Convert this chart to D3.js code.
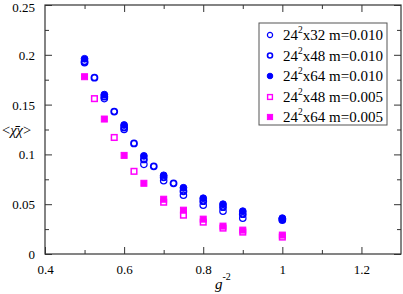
<!DOCTYPE html>
<html><head><meta charset="utf-8">
<script src="https://cdn.jsdelivr.net/npm/d3@7"></script>
<style>body{margin:0;background:#fff}svg{display:block}svg text{font-family:"Liberation Serif","DejaVu Serif",serif !important;fill:#000}</style>
</head><body><svg id="c" width="403" height="294"></svg>
<script>
// ---- data ----
const seriesNames = ["24²x32 m=0.010","24²x48 m=0.010","24²x64 m=0.010","24²x48 m=0.005","24²x64 m=0.005"];
const x32m010 = [0.5,0.55,0.6,0.65,0.7,0.75,0.8,0.85,0.9,1.0];
const y32m010 = [0.192,0.156,0.125,0.090,0.0736,0.059,0.049,0.043,0.036,0.034];
const x48m010 = [0.5,0.525,0.55,0.575,0.6,0.625,0.65,0.675,0.7,0.725,0.75,0.8,0.85,0.9,1.0];
const y48m010 = [0.193,0.177,0.158,0.143,0.127,0.111,0.095,0.088,0.077,0.071,0.063,0.053,0.047,0.040,0.035];
const x64m010 = [0.5,0.55,0.6,0.65,0.7,0.75,0.8,0.85,0.9,1.0];
const y64m010 = [0.196,0.160,0.1295,0.0985,0.079,0.0665,0.056,0.050,0.043,0.036];
const x48m005 = [0.525,0.575,0.625,0.7,0.75,0.8,0.85,0.9,1.0];
const y48m005 = [0.156,0.117,0.083,0.052,0.039,0.032,0.026,0.022,0.017];
const x64m005 = [0.5,0.55,0.6,0.65,0.7,0.75,0.8,0.85,0.9,1.0];
const y64m005 = [0.178,0.1355,0.099,0.071,0.055,0.044,0.035,0.028,0.024,0.019];
const xTicks = [0.4,0.6,0.8,1,1.2];
const xTickLabels = ["0.4","0.6","0.8","1","1.2"];
const yTicks = [0,0.05,0.1,0.15,0.2,0.25];
const yTickLabels = ["0","0.05","0.1","0.15","0.2","0.25"];

const svg = d3.select("#c");
const L=45,R=401,T=5,B=254;
const x = d3.scaleLinear().domain([0.4,1.3]).range([L,R]);
const y = d3.scaleLinear().domain([0,0.25]).range([B,T]);
const blue="#0000ff", mag="#ff00ff";
const SERIF = '"Liberation Serif","DejaVu Serif",serif';

const series = [
  {xs:x32m010, ys:y32m010, shape:"circle", fill:"none", color:blue, sw:1.2, r:3.2},
  {xs:x48m010, ys:y48m010, shape:"circle", fill:"none", color:blue, sw:1.8, r:3.0},
  {xs:x64m010, ys:y64m010, shape:"circle", fill:blue, color:blue, sw:1, r:3.4},
  {xs:x48m005, ys:y48m005, shape:"square", fill:"none", color:mag, sw:1.5, r:2.8},
  {xs:x64m005, ys:y64m005, shape:"square", fill:mag, color:mag, sw:1, r:3.0}
];

const minorX = d3.range(0.5,1.3,0.2);
const minorY = d3.range(0.025,0.25,0.05);
function drawAxis(axisGen, tx, ty){ const g=svg.append("g").attr("transform",`translate(${tx},${ty})`).call(axisGen); g.attr("font-family",SERIF); g.select(".domain").remove(); g.selectAll("line").attr("stroke","#333"); return g;}
const fmtX = (d)=>xTickLabels[xTicks.indexOf(d)];
const fmtY = (d)=>yTickLabels[yTicks.indexOf(d)];
let g;
g=drawAxis(d3.axisBottom(x).tickValues(xTicks).tickSize(-7).tickPadding(11).tickFormat(fmtX),0,B);
g.selectAll("text").attr("font-size",13).style("font-family",SERIF);
drawAxis(d3.axisBottom(x).tickValues(minorX).tickSize(-4).tickFormat(""),0,B);
drawAxis(d3.axisTop(x).tickValues(xTicks.filter(d=>d>0.4)).tickSize(-7).tickFormat(""),0,T);
drawAxis(d3.axisTop(x).tickValues(minorX).tickSize(-4).tickFormat(""),0,T);
g=drawAxis(d3.axisLeft(y).tickValues(yTicks).tickSize(-7).tickPadding(10).tickFormat(fmtY),L,0);
g.selectAll("text").attr("font-size",13).style("font-family",SERIF).attr("dy",d=>d===0.25?"0.5em":"0.35em");
drawAxis(d3.axisLeft(y).tickValues(minorY).tickSize(-4).tickFormat(""),L,0);
drawAxis(d3.axisRight(y).tickValues(yTicks).tickSize(-7).tickFormat(""),R,0);
drawAxis(d3.axisRight(y).tickValues(minorY).tickSize(-4).tickFormat(""),R,0);
svg.append("rect").attr("x",L).attr("y",T).attr("width",R-L).attr("height",B-T).attr("fill","none").attr("stroke","#333").attr("stroke-width",1.2);

function mark(sel, s){
  if(s.shape==="circle"){
    sel.append("circle").attr("r",s.r).attr("fill",s.fill).attr("stroke",s.color).attr("stroke-width",s.sw);
  } else {
    sel.append("rect").attr("x",-s.r).attr("y",-s.r).attr("width",2*s.r).attr("height",2*s.r).attr("fill",s.fill).attr("stroke",s.color).attr("stroke-width",s.sw);
  }
}
series.forEach(s=>{
  const pts = s.xs.map((v,i)=>[v,s.ys[i]]);
  svg.append("g").selectAll("g").data(pts).join("g")
    .attr("transform",d=>`translate(${x(d[0])},${y(d[1])})`)
    .each(function(){ mark(d3.select(this), s); });
});

// axis labels
const yl = svg.append("text").attr("x",2).attr("y",135).attr("font-size",14.5).style("font-family",SERIF);
yl.append("tspan").text("<");
yl.append("tspan").attr("font-style","italic").text("χ̄χ");
yl.append("tspan").text(">");
const xl = svg.append("text").attr("x",215).attr("y",289).attr("font-size",15).style("font-family",SERIF);
xl.append("tspan").attr("font-style","italic").text("g");
xl.append("tspan").attr("dy",-9).attr("font-size",10).text("-2");

// legend
const lg = svg.append("g");
lg.append("rect").attr("x",259).attr("y",23).attr("width",128).attr("height",102).attr("fill","#fff").attr("stroke","#555").attr("stroke-width",1);
const rowY = [35,55.5,76,97,117];
const legSeries = [
  {shape:"circle", fill:"none", color:blue, sw:1.2, r:2.6},
  {shape:"circle", fill:"none", color:blue, sw:1.6, r:2.5},
  {shape:"circle", fill:blue, color:blue, sw:1, r:2.8},
  {shape:"square", fill:"none", color:mag, sw:1.4, r:2.4},
  {shape:"square", fill:mag, color:mag, sw:1, r:2.6}
];
seriesNames.forEach((name,i)=>{
  const row = lg.append("g").attr("transform",`translate(0,${rowY[i]})`);
  const m = row.append("g").attr("transform","translate(270,0)");
  mark(m, legSeries[i]);
  const t = row.append("text").attr("x",283).attr("y",5).attr("font-size",15).style("font-family",SERIF);
  const parts = name.split("²");
  t.append("tspan").text(parts[0]);
  t.append("tspan").attr("dy",-7).attr("font-size",9.5).text("2");
  t.append("tspan").attr("dy",7).text(parts[1]);
});
</script></body></html>
